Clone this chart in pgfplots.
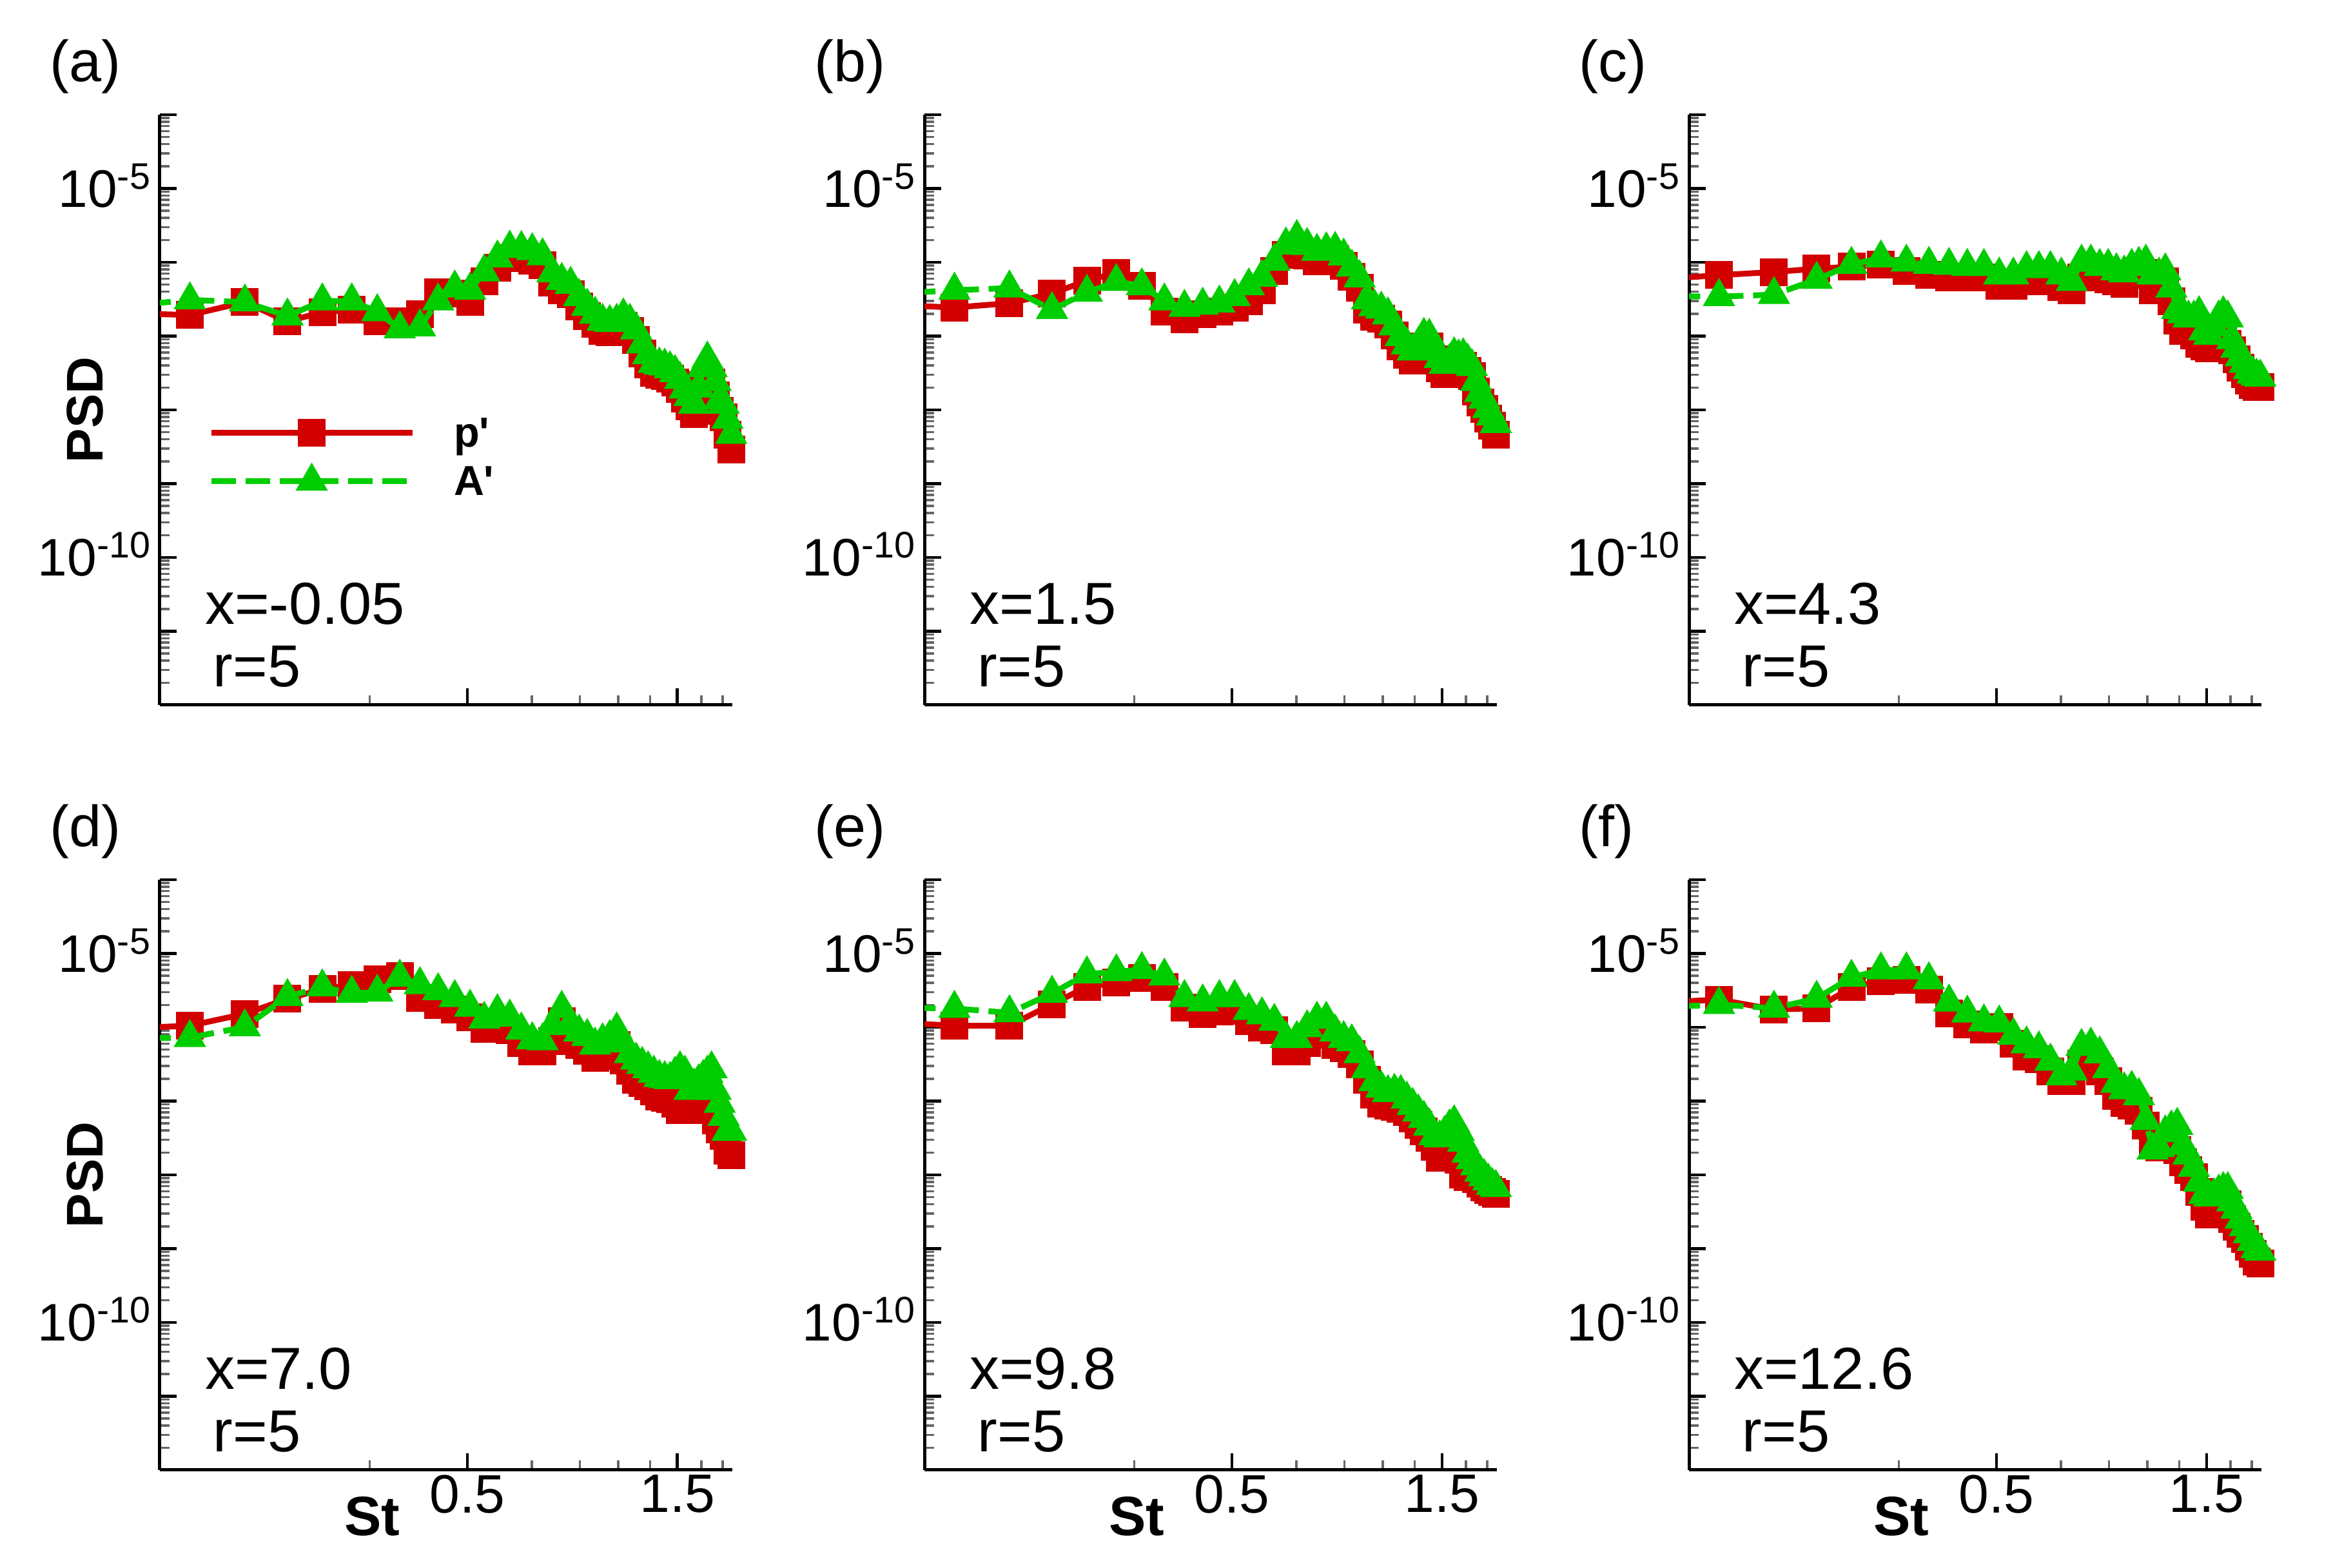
\documentclass[border=0pt]{standalone}
\usepackage{fontspec}
\setmainfont{Liberation Sans}
\usepackage{pgfplots}
\usepackage{pgfplotstable}
\pgfplotsset{compat=1.18}
\definecolor{pred}{RGB}{210,0,0}
\definecolor{pgreen}{RGB}{0,205,0}

\pgfplotstableread{
St R G
0.078 2.07e-7 2.44e-7
0.117 1.93e-7 3.09e-7
0.156 2.89e-7 2.89e-7
0.195 1.58e-7 1.87e-7
0.234 2.11e-7 2.99e-7
0.273 2.28e-7 2.99e-7
0.312 1.58e-7 2.13e-7
0.351 1.58e-7 1.25e-7
0.390 2.00e-7 1.33e-7
0.429 3.91e-7 2.99e-7
0.468 3.78e-7 4.47e-7
0.507 2.89e-7 4.18e-7
0.546 5.47e-7 7.39e-7
0.585 8.45e-7 1.14e-6
0.624 1.14e-6 1.55e-6
0.663 1.13e-6 1.53e-6
0.702 1.05e-6 1.43e-6
0.741 9.04e-7 1.22e-6
0.780 5.28e-7 7.15e-7
0.819 4.18e-7 5.65e-7
0.858 3.70e-7 5.01e-7
0.897 2.53e-7 3.42e-7
0.936 1.87e-7 2.53e-7
0.975 1.46e-7 1.97e-7
1.014 1.17e-7 1.58e-7
1.053 1.12e-7 1.52e-7
1.092 1.17e-7 1.58e-7
1.131 1.38e-7 1.87e-7
1.170 1.17e-7 1.58e-7
1.209 8.92e-8 1.21e-7
1.248 5.77e-8 7.80e-8
1.287 4.12e-8 5.57e-8
1.326 3.15e-8 4.26e-8
1.365 2.99e-8 4.04e-8
1.404 2.89e-8 3.91e-8
1.443 2.67e-8 3.60e-8
1.482 2.36e-8 3.19e-8
1.521 1.91e-8 2.58e-8
1.560 1.41e-8 1.91e-8
1.599 1.11e-8 1.51e-8
1.638 8.81e-9 1.19e-8
1.677 1.27e-8 1.97e-8
1.716 2.18e-8 3.73e-8
1.755 2.67e-8 4.88e-8
1.794 2.33e-8 3.73e-8
1.833 1.56e-8 2.41e-8
1.872 9.73e-9 1.36e-8
1.911 7.96e-9 1.19e-8
1.950 4.65e-9 7.45e-9
1.989 2.91e-9 4.65e-9
}\dataA

\pgfplotstableread{
St R G
0.078 2.70e-7 3.65e-7
0.117 2.44e-7 4.18e-7
0.156 2.79e-7 4.47e-7
0.195 3.78e-7 2.28e-7
0.234 5.65e-7 3.91e-7
0.273 7.15e-7 5.47e-7
0.312 4.78e-7 4.78e-7
0.351 2.13e-7 2.99e-7
0.390 1.69e-7 2.44e-7
0.429 2.00e-7 2.61e-7
0.468 2.13e-7 2.79e-7
0.507 2.44e-7 3.42e-7
0.546 2.99e-7 4.78e-7
0.585 4.18e-7 6.25e-7
0.624 7.64e-7 1.03e-6
0.663 1.26e-6 1.71e-6
0.702 1.60e-6 2.16e-6
0.741 1.24e-6 1.68e-6
0.780 1.03e-6 1.40e-6
0.819 1.08e-6 1.47e-6
0.858 1.10e-6 1.49e-6
0.897 8.98e-7 1.21e-6
0.936 6.34e-7 8.57e-7
0.975 4.53e-7 6.13e-7
1.014 2.28e-7 3.09e-7
1.053 1.84e-7 2.49e-7
1.092 1.71e-7 2.31e-7
1.131 1.43e-7 1.93e-7
1.170 1.01e-7 1.37e-7
1.209 7.25e-8 9.80e-8
1.248 5.57e-8 7.55e-8
1.287 4.62e-8 6.25e-8
1.326 5.65e-8 7.64e-8
1.365 6.46e-8 1.02e-7
1.404 7.29e-8 9.87e-8
1.443 4.88e-8 6.60e-8
1.482 3.65e-8 4.94e-8
1.521 3.05e-8 4.12e-8
1.560 3.33e-8 4.50e-8
1.599 3.65e-8 5.57e-8
1.638 3.83e-8 5.18e-8
1.677 3.99e-8 5.39e-8
1.716 3.37e-8 4.56e-8
1.755 2.85e-8 3.85e-8
1.794 1.78e-8 2.41e-8
1.833 1.27e-8 1.72e-8
1.872 1.03e-8 1.39e-8
1.911 7.69e-9 1.04e-8
1.950 6.08e-9 8.23e-9
1.989 4.65e-9 6.51e-9
}\dataB

\pgfplotstableread{
St R G
0.078 5.65e-7 3.53e-7
0.117 6.69e-7 3.42e-7
0.156 7.39e-7 3.65e-7
0.195 8.18e-7 5.85e-7
0.234 8.74e-7 9.35e-7
0.273 9.35e-7 1.14e-6
0.312 7.64e-7 1.00e-6
0.351 6.69e-7 9.35e-7
0.390 6.25e-7 9.04e-7
0.429 6.25e-7 8.74e-7
0.468 6.25e-7 8.74e-7
0.507 4.78e-7 6.69e-7
0.546 4.78e-7 6.69e-7
0.585 5.47e-7 8.18e-7
0.624 5.47e-7 8.18e-7
0.663 5.47e-7 8.18e-7
0.702 4.62e-7 6.69e-7
0.741 4.18e-7 5.47e-7
0.780 6.25e-7 1.00e-6
0.819 6.69e-7 1.00e-6
0.858 6.25e-7 8.74e-7
0.897 5.85e-7 8.74e-7
0.936 5.47e-7 7.64e-7
0.975 5.11e-7 7.15e-7
1.014 6.69e-7 8.74e-7
1.053 7.64e-7 9.35e-7
1.092 7.15e-7 1.00e-6
1.131 4.18e-7 6.69e-7
1.170 4.47e-7 6.69e-7
1.209 5.47e-7 7.64e-7
1.248 2.99e-7 4.47e-7
1.287 1.63e-7 2.28e-7
1.326 1.17e-7 2.00e-7
1.365 1.17e-7 1.75e-7
1.404 1.02e-7 1.75e-7
1.443 7.80e-8 2.00e-7
1.482 7.29e-8 1.17e-7
1.521 6.82e-8 1.02e-7
1.560 6.82e-8 1.33e-7
1.599 8.35e-8 1.75e-7
1.638 1.02e-7 2.00e-7
1.677 7.80e-8 1.75e-7
1.716 6.38e-8 8.92e-8
1.755 4.88e-8 6.82e-8
1.794 3.73e-8 5.21e-8
1.833 3.05e-8 4.26e-8
1.872 2.49e-8 3.48e-8
1.911 2.18e-8 3.05e-8
1.950 2.04e-8 2.85e-8
1.989 2.04e-8 2.76e-8
}\dataC

\pgfplotstableread{
St R G
0.078 9.48e-7 7.24e-7
0.117 1.05e-6 7.24e-7
0.156 1.52e-6 1.01e-6
0.195 2.43e-6 2.60e-6
0.234 3.29e-6 3.52e-6
0.273 3.77e-6 2.88e-6
0.312 4.46e-6 2.98e-6
0.351 4.93e-6 4.77e-6
0.390 2.52e-6 3.77e-6
0.429 1.99e-6 3.12e-6
0.468 1.74e-6 2.52e-6
0.507 1.37e-6 1.86e-6
0.546 9.48e-7 1.28e-6
0.585 1.01e-6 1.62e-6
0.624 9.16e-7 1.37e-6
0.663 6.12e-7 9.16e-7
0.702 4.67e-7 6.77e-7
0.741 4.67e-7 6.54e-7
0.780 6.54e-7 1.05e-6
0.819 1.20e-6 1.80e-6
0.858 7.48e-7 1.12e-6
0.897 5.72e-7 8.57e-7
0.936 4.83e-7 7.48e-7
0.975 3.82e-7 5.72e-7
1.014 4.08e-7 6.54e-7
1.053 4.52e-7 7.24e-7
1.092 5.72e-7 9.16e-7
1.131 3.57e-7 6.12e-7
1.170 2.55e-7 4.37e-7
1.209 1.95e-7 3.57e-7
1.248 1.76e-7 3.12e-7
1.287 1.59e-7 2.73e-7
1.326 1.35e-7 2.38e-7
1.365 1.14e-7 2.08e-7
1.404 1.10e-7 2.01e-7
1.443 1.06e-7 1.95e-7
1.482 9.29e-8 2.30e-7
1.521 7.59e-8 2.73e-7
1.560 7.59e-8 2.38e-7
1.599 8.12e-8 1.39e-7
1.638 8.39e-8 1.59e-7
1.677 9.29e-8 1.82e-7
1.716 8.98e-8 2.08e-7
1.755 8.39e-8 2.38e-7
1.794 7.59e-8 2.73e-7
1.833 5.42e-8 1.39e-7
1.872 4.14e-8 9.29e-8
1.911 3.38e-8 6.20e-8
1.950 2.11e-8 3.87e-8
1.989 1.85e-8 3.87e-8
}\dataD

\pgfplotstableread{
St R G
0.078 1.20e-6 1.86e-6
0.117 1.05e-6 1.80e-6
0.156 1.05e-6 1.57e-6
0.195 2.06e-6 2.88e-6
0.234 3.52e-6 5.27e-6
0.273 4.03e-6 5.64e-6
0.312 4.61e-6 6.04e-6
0.351 3.52e-6 4.93e-6
0.390 1.86e-6 2.52e-6
0.429 1.52e-6 2.20e-6
0.468 1.62e-6 2.52e-6
0.507 1.68e-6 2.52e-6
0.546 1.20e-6 1.68e-6
0.585 9.80e-7 1.47e-6
0.624 9.16e-7 1.20e-6
0.663 4.67e-7 7.00e-7
0.702 4.67e-7 7.00e-7
0.741 6.12e-7 9.80e-7
0.780 8.01e-7 1.28e-6
0.819 8.01e-7 1.28e-6
0.858 5.72e-7 8.57e-7
0.897 5.17e-7 7.00e-7
0.936 4.37e-7 6.33e-7
0.975 3.12e-7 4.37e-7
1.014 1.95e-7 2.73e-7
1.053 1.22e-7 1.82e-7
1.092 9.29e-8 1.49e-7
1.131 8.68e-8 1.30e-7
1.170 8.39e-8 1.35e-7
1.209 7.85e-8 1.30e-7
1.248 7.09e-8 1.06e-7
1.287 5.80e-8 8.68e-8
1.326 4.74e-8 7.09e-8
1.365 3.87e-8 5.80e-8
1.404 3.16e-8 4.58e-8
1.443 2.42e-8 3.38e-8
1.482 1.72e-8 3.16e-8
1.521 1.72e-8 3.62e-8
1.560 1.97e-8 4.43e-8
1.599 2.42e-8 5.07e-8
1.638 1.61e-8 3.87e-8
1.677 1.01e-8 2.76e-8
1.716 9.41e-9 1.97e-8
1.755 9.41e-9 1.61e-8
1.794 8.80e-9 1.32e-8
1.833 7.69e-9 1.08e-8
1.872 6.72e-9 9.41e-9
1.911 6.28e-9 8.23e-9
1.950 5.87e-9 7.19e-9
1.989 5.49e-9 6.72e-9
}\dataE

\pgfplotstableread{
St R G
0.078 2.11e-6 1.81e-6
0.117 2.37e-6 2.03e-6
0.156 1.74e-6 1.81e-6
0.195 1.81e-6 2.46e-6
0.234 3.48e-6 4.74e-6
0.273 4.22e-6 5.97e-6
0.312 4.39e-6 5.97e-6
0.351 3.22e-6 4.39e-6
0.390 1.55e-6 2.19e-6
0.429 1.10e-6 1.55e-6
0.468 9.40e-7 1.18e-6
0.507 1.02e-6 1.14e-6
0.546 5.93e-7 7.76e-7
0.585 4.03e-7 5.93e-7
0.624 3.73e-7 5.08e-7
0.663 2.54e-7 3.46e-7
0.702 1.87e-7 2.18e-7
0.741 1.87e-7 2.54e-7
0.780 3.20e-7 5.48e-7
0.819 3.46e-7 5.70e-7
0.858 2.54e-7 4.35e-7
0.897 1.87e-7 2.74e-7
0.936 1.18e-7 1.73e-7
0.975 9.33e-8 1.42e-7
1.014 8.64e-8 1.48e-7
1.053 7.41e-8 1.18e-7
1.092 4.67e-8 5.44e-8
1.131 2.94e-8 2.16e-8
1.170 2.33e-8 2.33e-8
1.209 2.52e-8 3.70e-8
1.248 2.72e-8 4.32e-8
1.287 2.16e-8 4.67e-8
1.326 1.47e-8 2.52e-8
1.365 1.17e-8 1.85e-8
1.404 9.26e-9 1.26e-8
1.443 5.83e-9 7.94e-9
1.482 3.67e-9 5.40e-9
1.521 2.92e-9 5.00e-9
1.560 2.92e-9 5.20e-9
1.599 3.27e-9 5.83e-9
1.638 3.67e-9 6.30e-9
1.677 3.97e-9 6.30e-9
1.716 2.50e-9 4.29e-9
1.755 1.98e-9 3.40e-9
1.794 1.58e-9 2.50e-9
1.833 1.35e-9 1.98e-9
1.872 1.07e-9 1.58e-9
1.911 8.51e-10 1.25e-9
1.950 6.75e-10 9.92e-10
1.989 6.25e-10 9.19e-10
}\dataF

\pgfplotsset{
  legend image code/.code={\draw[mark repeat=2,mark phase=2,#1] plot coordinates {(0pt,0pt) (15.6pt,0pt) (31.2pt,0pt)};},
  every axis/.append style={
    scale only axis, width=88.8pt, height=91.6pt,
    xmode=log, ymode=log,
    xmin=0.1, xmax=2, ymin=1e-12, ymax=1e-4,
    clip mode=individual,
    axis lines*=left,
    axis line style={line width=0.5pt, black},
    tick align=inside,
    major tick length=2.6pt, minor tick length=1.5pt,
    major tick style={line width=0.45pt, black},
    minor tick style={line width=0.35pt, black!60},
    xtick={0.5,1.5},
    minor xtick={0.3,0.7,0.9,1.1,1.3,1.7,1.9},
    ytick={1e-12,1e-11,1e-10,1e-9,1e-8,1e-7,1e-6,1e-5,1e-4},
    yticklabels={,,{10\textsuperscript{-10}},,,,,{10\textsuperscript{-5}},},
    minor ytick={2e-12,3e-12,4e-12,5e-12,6e-12,7e-12,8e-12,9e-12,
      2e-11,3e-11,4e-11,5e-11,6e-11,7e-11,8e-11,9e-11,
      2e-10,3e-10,4e-10,5e-10,6e-10,7e-10,8e-10,9e-10,
      2e-9,3e-9,4e-9,5e-9,6e-9,7e-9,8e-9,9e-9,
      2e-8,3e-8,4e-8,5e-8,6e-8,7e-8,8e-8,9e-8,
      2e-7,3e-7,4e-7,5e-7,6e-7,7e-7,8e-7,9e-7,
      2e-6,3e-6,4e-6,5e-6,6e-6,7e-6,8e-6,9e-6,
      2e-5,3e-5,4e-5,5e-5,6e-5,7e-5,8e-5,9e-5},
    yticklabel style={font=\fontsize{8.2}{9}\selectfont, inner sep=0pt, anchor=base east, xshift=-0.8pt, yshift=-2.9pt},
    xticklabel style={font=\fontsize{8.4}{9}\selectfont, inner sep=0pt, yshift=-0.6pt},
    anchor=south west,
  },
}

\newcommand{\panelcurves}[1]{%
  \addplot[pred, line width=0.9pt, no marks, forget plot, skip coords between index={2}{100}] table[x=St, y=R] {#1};
  \addplot[pred, line width=0.9pt, mark=square*, mark size=1.7pt, mark options={solid, fill=pred, draw=pred}, skip coords between index={0}{1}] table[x=St, y=R] {#1};
  \addplot[pgreen, line width=0.9pt, dash pattern=on 3.8pt off 1.5pt, no marks, forget plot, skip coords between index={2}{100}] table[x=St, y=G] {#1};
  \addplot[pgreen, line width=0.9pt, dash pattern=on 3.8pt off 1.5pt, mark=triangle*, mark size=2pt, mark options={solid, fill=pgreen, draw=pgreen}, skip coords between index={0}{1}] table[x=St, y=G] {#1};
}
\newcommand{\paneltext}[2]{%
  \node[anchor=base west, inner sep=0pt, font=\fontsize{9}{10}\selectfont, yshift=5.1pt] at (axis description cs:-0.194,1) {(#1)};
  \node[anchor=base west, inner sep=0pt, font=\fontsize{9.2}{11}\selectfont, yshift=12.5pt] at (axis description cs:0.0766,0) {x=#2};
  \node[anchor=base west, inner sep=0pt, font=\fontsize{9.2}{11}\selectfont, yshift=2.8pt] at (axis description cs:0.0912,0) {r=5};
}
\newcommand{\psdlabel}{%
  \node[rotate=90, inner sep=0pt, font=\bfseries\fontsize{8}{9}\selectfont] at (axis description cs:-0.131,0.5) {PSD};
}
\newcommand{\stlabel}{%
  \node[anchor=base, inner sep=0pt, font=\bfseries\fontsize{8.6}{10}\selectfont, yshift=-10.2pt] at (axis description cs:0.371,0) {St};
}

\begin{document}
\begin{tikzpicture}
\useasboundingbox (0,0) rectangle (361.9pt,243.3pt);

% (a)
\begin{axis}[xticklabels={}, at={(24.8pt,133.9pt)},
  legend style={at={(0.0845,0.42)}, anchor=west,
    draw=none, fill=none, inner sep=0pt, outer sep=0pt,
    font=\bfseries\fontsize{6.5}{7}\selectfont,
    row sep=2.4pt, column sep=6pt,
    nodes={inner sep=0pt, text height=4.7pt, text depth=0.4pt}},
  legend cell align=left,
]
\panelcurves{\dataA}
\addlegendentry{p\textquotesingle}
\addlegendentry{A\textquotesingle}
\paneltext{a}{-0.05}
\psdlabel
\end{axis}

% (b)
\begin{axis}[xticklabels={}, at={(143.4pt,133.9pt)}]
\panelcurves{\dataB}
\paneltext{b}{1.5}
\end{axis}

% (c)
\begin{axis}[xticklabels={}, at={(262.0pt,133.9pt)}]
\panelcurves{\dataC}
\paneltext{c}{4.3}
\end{axis}

% (d)
\begin{axis}[xticklabels={0.5,1.5}, at={(24.8pt,15.2pt)}]
\panelcurves{\dataD}
\paneltext{d}{7.0}
\psdlabel
\stlabel
\end{axis}

% (e)
\begin{axis}[xticklabels={0.5,1.5}, at={(143.4pt,15.2pt)}]
\panelcurves{\dataE}
\paneltext{e}{9.8}
\stlabel
\end{axis}

% (f)
\begin{axis}[xticklabels={0.5,1.5}, at={(262.0pt,15.2pt)}]
\panelcurves{\dataF}
\paneltext{f}{12.6}
\stlabel
\end{axis}

\end{tikzpicture}
\end{document}
